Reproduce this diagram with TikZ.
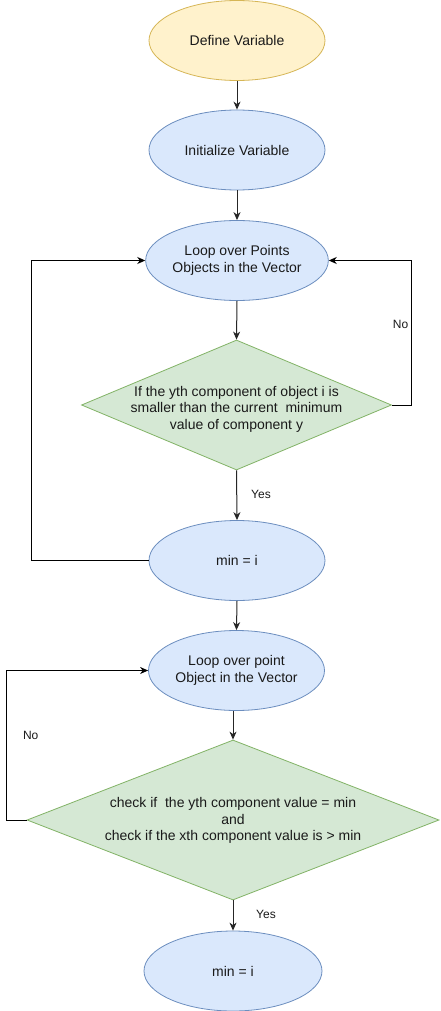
\documentclass[tikz,border=0pt]{standalone}
\usepackage{fontspec}
\setmainfont{Liberation Sans}
\usetikzlibrary{shapes.geometric,arrows.meta}
\definecolor{yfill}{HTML}{FFF2CC}
\definecolor{ydraw}{HTML}{D6B656}
\definecolor{bfill}{HTML}{DAE8FC}
\definecolor{bdraw}{HTML}{6C8EBF}
\definecolor{gfill}{HTML}{D5E8D4}
\definecolor{gdraw}{HTML}{82B366}
\definecolor{txtc}{HTML}{1A1A1A}
\begin{document}
\begin{tikzpicture}[x=1pt,y=-1pt,
  mainfont/.style={font=\fontsize{14}{16.6}\selectfont, text=txtc},
  ell/.style={ellipse, minimum width=176pt, minimum height=80pt, inner sep=0pt, align=center, mainfont, line width=0.8pt},
  yell/.style={ell, fill=yfill, draw=ydraw},
  bell/.style={ell, fill=bfill, draw=bdraw},
  dia/.style={diamond, fill=gfill, draw=gdraw, inner sep=0pt, line width=0.8pt},
  dtxt/.style={align=center, mainfont, inner sep=0pt},
  lbl/.style={font=\fontsize{12}{14}\selectfont, text=txtc, inner sep=0pt},
  arr/.style={-{Stealth[length=8pt,width=7pt,inset=2.5pt]}, line width=1pt, draw=black!85},
  loopline/.style={arr, draw=black}
]
\useasboundingbox (0,0) rectangle (440,1011);
\fill[white] (0,0) rectangle (440,1011);

\node[yell] (e1) at (237,40.5) {Define Variable};
\node[bell] (e2) at (237,150) {Initialize Variable};
\node[bell] (e3) at (237,260.5) {Loop over Points\\Objects in the Vector};
\node[dia, minimum width=310pt, minimum height=130pt] (d1) at (236.5,405) {};
\node[dtxt] (t1) at (236.5,409) {If the yth component of object i is\\smaller than the current\ \ minimum\\value of component y};
\node[bell] (e4) at (237,560.5) {min = i};
\node[bell] (e5) at (236.5,670.5) {Loop over point\\Object in the Vector};
\node[dia, minimum width=412pt, minimum height=160pt] (d2) at (233,820) {};
\node[dtxt] (t2) at (233,820.5) {check if\ \ the yth component value = min\\and\\check if the xth component value is \textgreater{} min};
\node[bell, minimum width=178pt] (e6) at (233,971) {min = i};

\draw[arr] (e1.south) -- (e2.north);
\draw[arr] (e2.south) -- (e3.north);
\draw[arr] (e3.south) -- (d1.north);
\draw[arr] (d1.south) -- (e4.north);
\draw[arr] (e4.south) -- (e5.north);
\draw[arr] (e5.south -| d2.north) -- (d2.north);
\draw[arr] (d2.south) -- (e6.north);

\draw[loopline] (d1.east) -- ++(19.5,0) |- (e3.east);
\draw[loopline] (e4.west) -- ++(-117.3,0) |- (e3.west);
\draw[loopline] (d2.west) -- ++(-20,0) |- (e5.west);

\node[lbl] (no1) at (400.5,324) {No};
\node[lbl] (yes1) at (261,494) {Yes};
\node[lbl] (no2) at (30.7,735) {No};
\node[lbl] (yes2) at (266,914) {Yes};
\end{tikzpicture}
\end{document}
